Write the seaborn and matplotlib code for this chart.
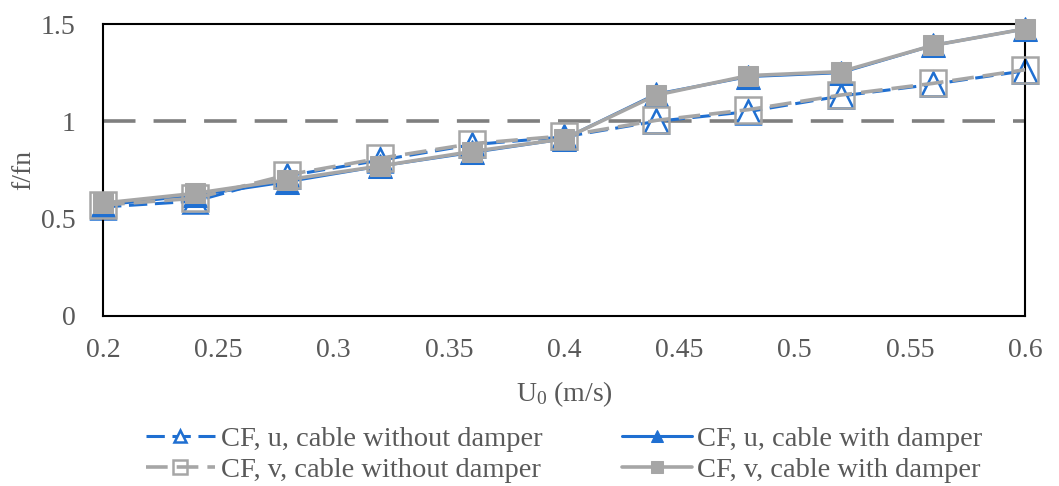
import matplotlib
matplotlib.use("Agg")
import matplotlib.pyplot as plt
import seaborn as sns

# Flow velocity U0 (m/s)
u0 = [0.20, 0.24, 0.28, 0.32, 0.36, 0.40, 0.44, 0.48, 0.52, 0.56, 0.60]

# Frequency ratio f/fn for each series
cf_u_without = [0.56, 0.59, 0.72, 0.80, 0.88, 0.92, 1.00, 1.05, 1.13, 1.19, 1.26]
cf_u_with    = [0.57, 0.62, 0.69, 0.77, 0.84, 0.91, 1.14, 1.23, 1.25, 1.39, 1.475]
cf_v_without = [0.57, 0.605, 0.725, 0.81, 0.885, 0.925, 1.005, 1.06, 1.135, 1.195, 1.265]
cf_v_with    = [0.58, 0.63, 0.70, 0.77, 0.845, 0.91, 1.135, 1.235, 1.255, 1.39, 1.475]

labels = ["CF, u, cable without damper", "CF, u, cable with damper",
          "CF, v, cable without damper", "CF, v, cable with damper"]

xticks = [0.2, 0.25, 0.3, 0.35, 0.4, 0.45, 0.5, 0.55, 0.6]
xticklabels = ["0.2", "0.25", "0.3", "0.35", "0.4", "0.45", "0.5", "0.55", "0.6"]
yticks = [0, 0.5, 1, 1.5]
yticklabels = ["0", "0.5", "1", "1.5"]

sns.set_style("white")
plt.rcParams["font.family"] = ["Liberation Serif", "DejaVu Serif"]
plt.rcParams["mathtext.fontset"] = "custom"
plt.rcParams["mathtext.rm"] = "Liberation Serif"
plt.rcParams["mathtext.it"] = "Liberation Serif:italic"

BLUE = "#1F6FD1"
GRAY = "#A6A6A6"
TXT = "#595959"
FS = 20

fig = plt.figure(figsize=(10.59, 4.86), dpi=100)
ax = fig.add_axes([0.0973, 0.3498, 0.8707, 0.6008])

# Reference line f/fn = 1
ax.axhline(1.0, color="#7F7F7F", lw=2.6, dashes=(9, 5), zorder=1)

sns.lineplot(x=u0, y=cf_u_without, ax=ax, color=BLUE, lw=2.2,
             marker="^", markersize=17, markerfacecolor="white",
             markeredgecolor=BLUE, markeredgewidth=1.8,
             label=labels[0], zorder=2)
ax.lines[-1].set_dashes((6, 2.5))
sns.lineplot(x=u0, y=cf_u_with, ax=ax, color=BLUE, lw=2.2,
             marker="^", markersize=17, markerfacecolor=BLUE,
             markeredgecolor=BLUE, label=labels[1], zorder=3)
sns.lineplot(x=u0, y=cf_v_without, ax=ax, color=GRAY, lw=2.6,
             marker="s", markersize=19, markerfacecolor="none",
             markeredgecolor=GRAY, markeredgewidth=1.8,
             label=labels[2], zorder=4)
ax.lines[-1].set_dashes((6, 2.5))
sns.lineplot(x=u0, y=cf_v_with, ax=ax, color=GRAY, lw=2.6,
             marker="s", markersize=15, markerfacecolor=GRAY,
             markeredgecolor=GRAY, label=labels[3], zorder=5)

for ln in ax.lines:
    ln.set_clip_on(False)

ax.set_xlim(0.2, 0.6)
ax.set_ylim(0, 1.5)
ax.set_xticks(xticks)
ax.set_xticklabels(xticklabels)
ax.set_yticks(yticks)
ax.set_yticklabels(yticklabels)

for s in ax.spines.values():
    s.set_color("black")
    s.set_linewidth(1.5)

ax.tick_params(axis="x", direction="in", length=7, width=1.5, color="black",
               labelsize=FS, labelcolor=TXT, pad=16)
ax.tick_params(axis="y", length=0, labelsize=FS, labelcolor=TXT, pad=20)

ax.set_xlabel(r"U$_0$ (m/s)", fontsize=FS, color=TXT)
ax.xaxis.set_label_coords(0.5, -0.215)
ax.set_ylabel("f/fn", fontsize=FS, color=TXT)
ax.yaxis.set_label_coords(-0.072, 0.5)

handles, lbls = ax.get_legend_handles_labels()
order = [0, 2, 1, 3]
leg = ax.legend([handles[i] for i in order], [lbls[i] for i in order],
                ncol=2, loc="upper center", bbox_to_anchor=(0.500, -0.308),
                frameon=False, fontsize=20.5, handlelength=2.45,
                columnspacing=2.78, handletextpad=0.2, labelspacing=0.2,
                markerscale=0.55, borderpad=0.2)
for t in leg.get_texts():
    t.set_color(TXT)

fig.savefig("out.png", dpi=100)
